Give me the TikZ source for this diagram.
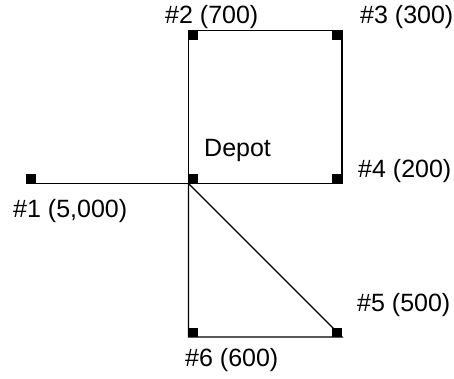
\documentclass[tikz,border=0pt]{standalone}
\usepackage{fontspec}
\setmainfont{Liberation Sans}
\begin{document}
\begin{tikzpicture}[x=1pt,y=-1pt,
  link/.style={line width=1.2pt},
  marker/.style={rectangle,fill=black,inner sep=0pt,minimum width=10pt,minimum height=9.5pt},
  lbl/.style={anchor=base west,inner sep=0pt,font=\fontsize{25}{30}\selectfont}]
\useasboundingbox (0,0) rectangle (454,379);
% vertices
\coordinate (d) at (188.5,183.5);
\coordinate (c1) at (26,183.5);
\coordinate (c2) at (188.5,30.5);
\coordinate (c3) at (342,30.5);
\coordinate (c4) at (342,183.5);
\coordinate (c5) at (342,337);
\coordinate (c6) at (188.5,337);
% connectors
\draw[link] (c1) -- (d);
\draw[link] (d) -- (c2) -- (c3) -- (c4) -- (d);
\draw[link] (d) -- (c6) -- (c5) -- (d);
% markers
\node[marker,anchor=south west] (m1) at ([shift={(-0.6,0.6)}]c1) {};
\node[marker,anchor=south west] (md) at ([shift={(-0.6,0.6)}]d) {};
\node[marker,anchor=north west] (m2) at ([shift={(-0.6,-0.6)}]c2) {};
\node[marker,anchor=north east] (m3) at ([shift={(0.6,-0.6)}]c3) {};
\node[marker,anchor=south east] (m4) at ([shift={(0.6,0.6)}]c4) {};
\node[marker,anchor=south east] (m5) at ([shift={(0.6,0.6)}]c5) {};
\node[marker,anchor=south west] (m6) at ([shift={(-0.6,0.6)}]c6) {};
% labels
\node[lbl] (l2) at (165,24) {\#2 (700)};
\node[lbl] (l3) at (360,24) {\#3 (300)};
\node[lbl] (ld) at (204,157) {Depot};
\node[lbl] (l1) at (13,217) {\#1 (5,000)};
\node[lbl] (l4) at (358,178) {\#4 (200)};
\node[lbl] (l5) at (357,311) {\#5 (500)};
\node[lbl] (l6) at (185,366) {\#6 (600)};
\end{tikzpicture}
\end{document}
